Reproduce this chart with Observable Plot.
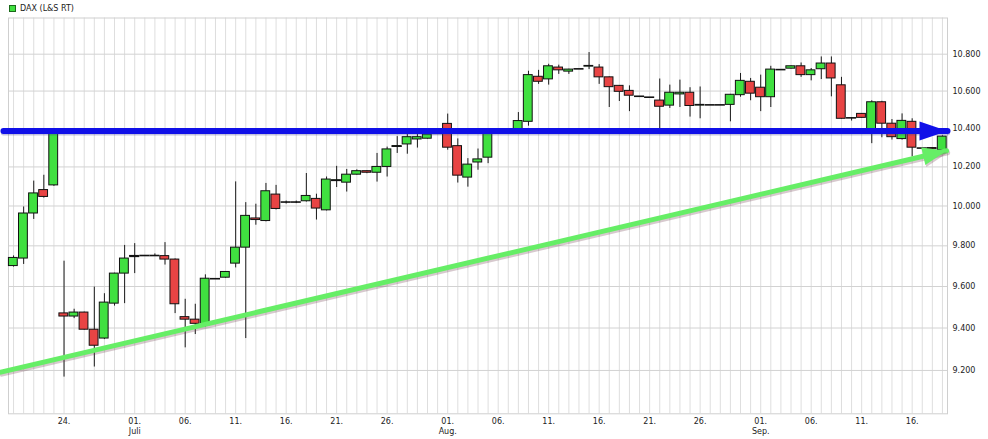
<!DOCTYPE html>
<html>
<head>
<meta charset="utf-8">
<script src="https://cdn.jsdelivr.net/npm/d3@7"></script>
<script src="https://cdn.jsdelivr.net/npm/@observablehq/plot@0.6"></script>
<style>
  body { margin: 0; background: #fff; }
  #legend { position: relative; height: 17px; font: 8px "DejaVu Sans", sans-serif; color: #222; }
  #legend .sw { position: absolute; left: 9px; top: 5px; width: 5px; height: 5px; background: #40e040; border: 1px solid #1a6a1a; }
  #legend .lb { position: absolute; left: 20px; top: 4px; line-height: 9px; white-space: nowrap; }
</style>
</head>
<body>
<div id="legend"><span class="sw"></span><span class="lb">DAX (L&amp;S RT)</span></div>
<div id="chart"></div>
<script>
// ---- data ----
const firstDay = "2016-06-19";
const lastDay = "2016-09-19";
const open  = [9700,9737,9962,10081,10105,9470,9455,9474,9392,9350,9517,9663,9750,9752,9752,9749,9732,9452,9440,9413,9638,9643,9712,9791,9937,9924,10058,10020,10020,10024,10036,9978,10128,10119,10160,10178,10170,10200,10305,10317,10343,10347,10375,10425,10308,10145,10223,10248,10388,10390,10395,10436,10677,10663,10727,10705,10720,10732,10727,10674,10628,10601,10572,10567,10549,10522,10582,10591,10522,10526,10526,10526,10578,10650,10618,10567,10716,10721,10734,10686,10718,10749,10631,10457,10478,10393,10540,10426,10345,10436,10298,10298,10286];
const high  = [9750,9995,10127,10157,10390,9724,9490,9476,9597,9565,9665,9802,9811,9752,9760,9816,9735,9538,9514,9657,9638,9673,10123,10017,10009,10115,10105,10025,10025,10166,10060,10148,10203,10187,10185,10180,10270,10303,10358,10376,10369,10375,10378,10477,10346,10243,10293,10385,10390,10392,10485,10707,10712,10745,10740,10718,10720,10809,10743,10676,10630,10628,10572,10567,10665,10632,10659,10618,10622,10526,10526,10582,10695,10668,10686,10734,10716,10736,10752,10722,10785,10785,10674,10457,10480,10548,10545,10448,10478,10452,10298,10299,10362];
const low   = [9695,9708,9932,10040,10100,9169,9445,9390,9216,9345,9505,9517,9663,9752,9752,9705,9469,9306,9369,9404,9638,9640,9691,9350,9903,9920,9980,10010,10012,10020,9929,9975,10094,10071,10158,10165,10122,10148,10270,10266,10298,10345,10372,10287,10117,10096,10183,10217,10385,10388,10390,10413,10636,10632,10690,10690,10720,10716,10636,10512,10544,10490,10572,10567,10393,10507,10512,10461,10452,10526,10526,10436,10567,10548,10490,10512,10716,10719,10674,10655,10662,10569,10450,10440,10455,10321,10352,10340,10340,10252,10298,10290,10284];
const close = [9740,9962,10064,10046,10385,9455,9474,9392,9316,9522,9663,9737,9748,9752,9752,9732,9514,9440,9420,9638,9638,9671,9791,9950,9929,10075,9985,10020,10020,10051,9987,10135,10131,10160,10178,10170,10200,10291,10308,10355,10355,10369,10375,10300,10155,10212,10239,10375,10388,10390,10440,10686,10650,10734,10712,10716,10720,10736,10674,10621,10596,10575,10572,10567,10516,10591,10591,10520,10526,10526,10526,10580,10655,10586,10567,10716,10716,10734,10686,10712,10749,10668,10452,10457,10457,10540,10426,10355,10441,10300,10298,10292,10358];

const yTicks = [9200, 9400, 9600, 9800, 10000, 10200, 10400, 10600, 10800];
const xTickDates = ["2016-06-24","2016-07-01","2016-07-06","2016-07-11","2016-07-16","2016-07-21","2016-07-26",
                    "2016-08-01","2016-08-06","2016-08-11","2016-08-16","2016-08-21","2016-08-26",
                    "2016-09-01","2016-09-06","2016-09-11","2016-09-16"];
const monthLabels = {6: "Juli", 7: "Aug.", 8: "Sep."};

// drawn annotations (resistance + rising support)
const resistanceLevel = 10388;
const resistanceFrom = "2016-06-18T00:00Z";
const resistanceTo = "2016-09-19T12:00Z";
const supportFrom = ["2016-06-17T18:00Z", 9192];
const supportTo = ["2016-09-19T10:00Z", 10284];

// ---- build ----
const up = "#40e040", down = "#e84444", blue = "#1010e8", lightGreen = "#66ee66";
const days = d3.utcDay.range(new Date(firstDay), d3.utcDay.offset(new Date(lastDay), 1));
const candles = days.map((date, i) => ({date, open: open[i], high: high[i], low: low[i], close: close[i]}));
const half = d => d3.utcHour.offset(d.date, -10.6);
const half2 = d => d3.utcHour.offset(d.date, 10.6);
const full1 = d => d3.utcHour.offset(d.date, -12);
const full2 = d => d3.utcHour.offset(d.date, 12);
const de = d3.formatLocale({decimal: ",", thousands: ".", grouping: [3], currency: ["", "€"]});
const yFmt = de.format(",d");
const xFmt = d => {
  const day = d.getUTCDate();
  const s = String(day).padStart(2, "0") + ".";
  return day === 1 ? s + "\n" + monthLabels[d.getUTCMonth()] : s;
};
const resistance = [{date: new Date(resistanceFrom), v: resistanceLevel}, {date: new Date(resistanceTo), v: resistanceLevel}];
const support = [{date: new Date(supportFrom[0]), v: supportFrom[1]}, {date: new Date(supportTo[0]), v: supportTo[1]}];
const head = (len, hw) => ({draw(ctx) { ctx.moveTo(0, 0); ctx.lineTo(-len, -hw); ctx.lineTo(-len, hw); ctx.closePath(); }});

function makeChart(greenAngle) {
  return Plot.plot({
    width: 988, height: 422,
    marginLeft: 8, marginRight: 41, marginTop: 0.5, marginBottom: 25.7,
    style: {fontFamily: "'DejaVu Sans', sans-serif", fontSize: "8px", color: "#222", background: "#fff", overflow: "visible"},
    x: {type: "utc", domain: [new Date("2016-06-18T12:00Z"), new Date("2016-09-19T12:00Z")]},
    y: {type: "log", domain: [9000, 11000], axis: null},
    marks: [
      Plot.ruleX(days, {stroke: "#dedede", strokeWidth: 1}),
      Plot.ruleY(yTicks, {stroke: "#d2d2d2", strokeWidth: 1}),
      Plot.frame({stroke: "#cfcfcf"}),
      Plot.text(yTicks, {y: d => d, text: yFmt, frameAnchor: "right", textAnchor: "start", dx: 5, fill: "#222"}),
      Plot.axisX({ticks: xTickDates.map(s => new Date(s)), tickFormat: xFmt, tickSize: 0, tickPadding: 3, lineHeight: 1.25, fill: "#222"}),
      // wicks
      Plot.ruleX(candles, {x: "date", y1: "low", y2: "high", stroke: "#1a1a1a", strokeWidth: 1}),
      // bodies
      Plot.rect(candles.filter(d => d.close >= d.open), {x1: half, x2: half2, y1: "open", y2: "close", fill: up, stroke: "#111", strokeWidth: 1}),
      Plot.rect(candles.filter(d => d.close < d.open), {x1: half, x2: half2, y1: "open", y2: "close", fill: down, stroke: "#111", strokeWidth: 1}),
      Plot.ruleY(candles.filter(d => Math.abs(d.open - d.close) < 4), {y: "close", x1: full1, x2: full2, stroke: "#111", strokeWidth: 1.6}),
      // support (green) with shadow
      Plot.line(support, {x: "date", y: "v", stroke: "rgba(110,60,80,0.28)", strokeWidth: 5, dy: 2, dx: 1}),
      Plot.line(support, {x: "date", y: "v", stroke: lightGreen, strokeWidth: 5}),
      Plot.dot(support.slice(1), {x: "date", y: "v", r: 1, symbol: head(24, 9), fill: "rgba(110,60,80,0.28)", stroke: "none", rotate: greenAngle, dy: 2, dx: 1}),
      Plot.dot(support.slice(1), {x: "date", y: "v", r: 1, symbol: head(24, 9), fill: lightGreen, stroke: "none", rotate: greenAngle}),
      // resistance (blue) with shadow
      Plot.line(resistance, {x: "date", y: "v", stroke: "rgba(60,60,150,0.3)", strokeWidth: 5, dy: 2}),
      Plot.line(resistance, {x: "date", y: "v", stroke: blue, strokeWidth: 6}),
      Plot.dot(resistance.slice(1), {x: "date", y: "v", r: 1, symbol: head(28, 9.5), fill: blue, stroke: "none"})
    ]
  });
}

const probe = makeChart(0);
const xs = probe.scale("x"), ys = probe.scale("y");
const dxp = xs.apply(support[1].date) - xs.apply(support[0].date);
const dyp = ys.apply(support[1].v) - ys.apply(support[0].v);
const angle = Math.atan2(dyp, dxp) * 180 / Math.PI;
document.getElementById("chart").append(makeChart(angle));
</script>
</body>
</html>
